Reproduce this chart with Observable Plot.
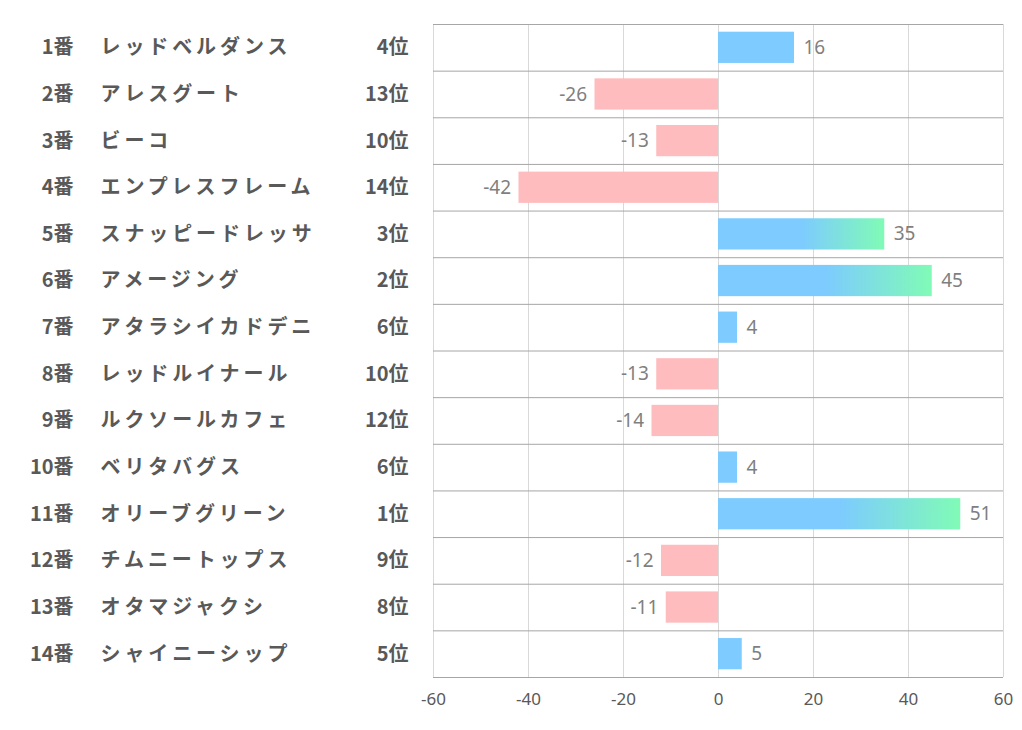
<!DOCTYPE html>
<html><head><meta charset="utf-8">
<script src="https://cdn.jsdelivr.net/npm/d3@7"></script>
<script src="https://cdn.jsdelivr.net/npm/@observablehq/plot@0.6"></script>
<style>body{margin:0;background:#fff;} svg{display:block;}</style>
</head><body><div id="chart"></div>
<script>
const numbers = ["1番","2番","3番","4番","5番","6番","7番","8番","9番","10番","11番","12番","13番","14番"];
const names = ["レッドベルダンス","アレスグート","ビーコ","エンプレスフレーム","スナッピードレッサ","アメージング","アタラシイカドデニ","レッドルイナール","ルクソールカフェ","ベリタバグス","オリーブグリーン","チムニートップス","オタマジャクシ","シャイニーシップ"];
const ranks = ["4位","13位","10位","14位","3位","2位","6位","10位","12位","6位","1位","9位","8位","5位"];
const rankNums = [4,13,10,14,3,2,6,10,12,6,1,9,8,5];
const values = [16,-26,-13,-42,35,45,4,-13,-14,4,51,-12,-11,5];
const xTicks = [-60,-40,-20,0,20,40,60];

const data = numbers.map((n,i)=>({num:n, name:names[i], rank:ranks[i], r:rankNums[i], v:values[i]}));

const W=1022, H=730, mT=24, mB=53, mL=433, mR=19;
const step = (H-mT-mB)/numbers.length;
const pad = 0.33;

const gradDefs = () => {
  const defs = d3.create("svg:defs");
  const g = defs.append("linearGradient").attr("id","topgrad").attr("x1","0").attr("x2","1").attr("y1","0").attr("y2","0");
  g.append("stop").attr("offset","0").attr("stop-color","#7dcbff");
  g.append("stop").attr("offset","0.5").attr("stop-color","#7dcbff");
  g.append("stop").attr("offset","1").attr("stop-color","#80fbb6");
  return defs.node();
};

const leftFont = "'Noto Sans CJK JP', sans-serif";
const hasAxisMark = typeof Plot.axisX === "function";

const axisMarks = hasAxisMark
  ? [Plot.axisX({ticks: xTicks, tickSize: 0, tickPadding: 15, fontSize: 17, fill: "#595959", label: null, tickFormat: d=>String(d)})]
  : [];

const chart = Plot.plot({
  width: W, height: H,
  marginTop: mT, marginBottom: mB, marginLeft: mL, marginRight: mR,
  style: {fontFamily: "'Noto Sans', sans-serif", background: "#fff"},
  x: hasAxisMark
    ? {domain: [-60,60], axis: null}
    : {domain: [-60,60], ticks: xTicks, tickSize: 0, tickPadding: 15, label: null, tickFormat: d=>String(d)},
  y: {domain: numbers, paddingInner: pad, paddingOuter: pad/2, round: false, axis: null},
  marks: [
    gradDefs,
    Plot.ruleX(xTicks, {stroke: "#d9d9d9", strokeWidth: 1}),
    Plot.ruleY(data, {y: "num", dy: -step/2, stroke: "#a6a6a6", strokeWidth: 1}),
    Plot.ruleY(data.slice(-1), {y: "num", dy: step/2, stroke: "#a6a6a6", strokeWidth: 1}),
    Plot.barX(data.filter(d=>d.v<0), {x: "v", y: "num", fill: "#ffbcbf"}),
    Plot.barX(data.filter(d=>d.v>0 && d.r>3), {x: "v", y: "num", fill: "#7dcbff"}),
    Plot.barX(data.filter(d=>d.v>0 && d.r<=3), {x: "v", y: "num", fill: "url(#topgrad)"}),
    Plot.text(data.filter(d=>d.v>=0), {x: "v", y: "num", text: d=>String(d.v), textAnchor: "start", dx: 9, fontSize: 19, fill: "#7f7f7f"}),
    Plot.text(data.filter(d=>d.v<0), {x: "v", y: "num", text: d=>String(d.v), textAnchor: "end", dx: -8, fontSize: 19, fill: "#7f7f7f"}),
    Plot.text(data, {y: "num", frameAnchor: "left", text: "num", textAnchor: "end", dx: -360, fontSize: 20, fontWeight: "bold", fill: "#595959", fontFamily: leftFont}),
    Plot.text(data, {y: "num", frameAnchor: "left", text: "name", textAnchor: "start", dx: -333, fontSize: 20, fontWeight: "bold", fill: "#595959", fontFamily: leftFont}),
    Plot.text(data, {y: "num", frameAnchor: "left", text: "rank", textAnchor: "end", dx: -25, fontSize: 20, fontWeight: "bold", fill: "#595959", fontFamily: leftFont}),
    ...axisMarks
  ]
});
chart.querySelectorAll("text").forEach(t => {
  if (names.includes(t.textContent)) t.style.letterSpacing = "3.9px";
});
if (!hasAxisMark) {
  chart.querySelectorAll("g[aria-label*='x-axis']").forEach(g => {
    g.setAttribute("font-size", "17");
    g.querySelectorAll("text").forEach(t => { t.style.fontSize = "17px"; t.style.fill = "#595959"; });
  });
}
document.getElementById("chart").appendChild(chart);
</script></body></html>
